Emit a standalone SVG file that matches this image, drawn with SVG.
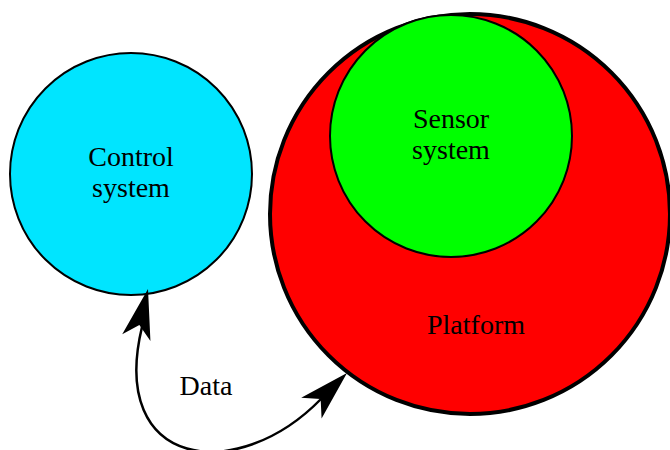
<svg xmlns="http://www.w3.org/2000/svg" width="670" height="450" viewBox="0 0 670 450">
  <style>
    .lbl { font-family: "Liberation Serif", "Times New Roman", serif; font-size: 28px; fill: #000; text-anchor: middle; }
    .node { stroke: #000; }
    .edge { fill: none; stroke: #000; stroke-width: 2.5; }
    .head { fill: #000; stroke: none; }
  </style>
  <defs>
    <!-- stealth arrowhead, tip at origin, pointing along +x -->
    <path id="stealth" d="M0,0 L-50,-14.5 L-37,0 L-50,14.5 Z"/>
  </defs>

  <g id="platform">
    <circle class="node" cx="470" cy="214" r="200" fill="#FF0000" stroke-width="4"/>
    <text class="lbl" x="476" y="334">Platform</text>
  </g>

  <g id="sensor-system">
    <circle class="node" cx="451" cy="136" r="121" fill="#00FF00" stroke-width="2"/>
    <text class="lbl" x="451" y="128">Sensor</text>
    <text class="lbl" x="451" y="159">system</text>
  </g>

  <g id="control-system">
    <circle class="node" cx="131" cy="174" r="121" fill="#00E5FF" stroke-width="2"/>
    <text class="lbl" x="131" y="166">Control</text>
    <text class="lbl" x="131" y="197">system</text>
  </g>

  <g id="connectors">
    <path class="edge" d="M142,327 C108,468 236,486 321,399"/>
    <use href="#stealth" class="head" transform="translate(148,289) rotate(-76.5)"/>
    <use href="#stealth" class="head" transform="translate(347,373) rotate(-44.6)"/>
    <text class="lbl" x="206" y="395">Data</text>
  </g>
</svg>
